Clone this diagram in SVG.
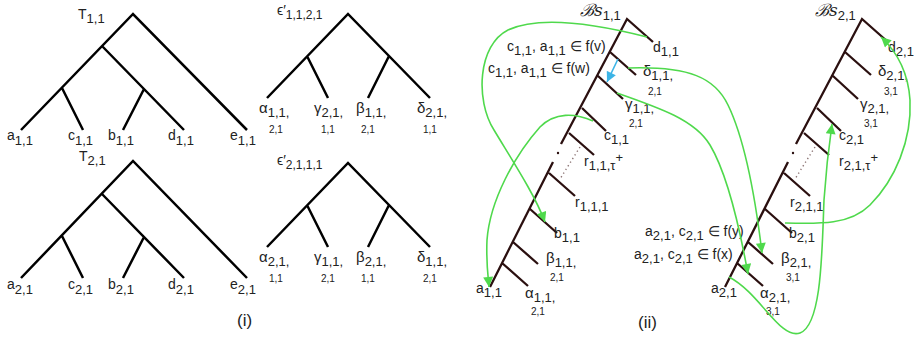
<svg xmlns="http://www.w3.org/2000/svg" width="915" height="337" viewBox="0 0 915 337">
<style>
text{font-family:"Liberation Sans",Arial,sans-serif;font-size:14px;fill:#222}
.sb{font-size:13px}
.s2{font-size:10px}
.gk{font-size:15px}
.lab{font-size:17px}
.t{stroke:#000;stroke-width:2.5;fill:none}
.c{stroke:#2b1010;stroke-width:2.3;fill:none}
.g{stroke:#4fd94c;stroke-width:1.6;fill:none}
.dot{stroke:#8a7272;stroke-width:1.4;stroke-dasharray:1.3 3;fill:none}
.scr{font-family:"DejaVu Serif",serif;font-style:italic;font-size:17px}
</style>
<defs>
<marker id="ag" viewBox="0 0 10 10" refX="10" refY="5" markerWidth="11" markerHeight="10" markerUnits="userSpaceOnUse" orient="auto"><path d="M0,0 L10,5 L0,10 z" fill="#4fd94c"/></marker>
<marker id="ab" viewBox="0 0 10 10" refX="10" refY="5" markerWidth="11" markerHeight="10" markerUnits="userSpaceOnUse" orient="auto"><path d="M0,0 L10,5 L0,10 z" fill="#3cb4e6"/></marker>
</defs>

<g id="T11">
<path class="t" d="M21,130 L133,14 L247,130 M102,46 L184,130 M62,88 L83,130 M144,89 L123,130"/>
<text x="78" y="19">T<tspan class="sb" dy="4">1,1</tspan></text>
<text x="7" y="140">a<tspan class="sb" dy="5">1,1</tspan></text>
<text x="68" y="140">c<tspan class="sb" dy="5">1,1</tspan></text>
<text x="108" y="140">b<tspan class="sb" dy="5">1,1</tspan></text>
<text x="168" y="140">d<tspan class="sb" dy="5">1,1</tspan></text>
<text x="230" y="140">e<tspan class="sb" dy="5">1,1</tspan></text>
</g>
<g id="T21">
<path class="t" d="M21,278 L133,161 L247,278 M102,194 L184,278 M62,236 L83,278 M144,237 L123,278"/>
<text x="79" y="161">T<tspan class="sb" dy="4">2,1</tspan></text>
<text x="7" y="289">a<tspan class="sb" dy="5">2,1</tspan></text>
<text x="68" y="289">c<tspan class="sb" dy="5">2,1</tspan></text>
<text x="108" y="289">b<tspan class="sb" dy="5">2,1</tspan></text>
<text x="168" y="289">d<tspan class="sb" dy="5">2,1</tspan></text>
<text x="230" y="289">e<tspan class="sb" dy="5">2,1</tspan></text>
</g>
<g id="E1121">
<path class="t" d="M267,98 L348,14 L430,98 M307,56 L328,98 M389,56 L368,98"/>
<text x="277" y="15">ϵ′<tspan class="sb" dy="4" style="font-size:12px">1,1,2,1</tspan></text>
<text class="gk" x="259" y="113">α<tspan class="sb" dy="4">1,1,</tspan></text>
<text class="s2" x="269" y="133">2,1</text>
<text class="gk" x="314" y="113">γ<tspan class="sb" dy="4">2,1,</tspan></text>
<text class="s2" x="321" y="133">1,1</text>
<text class="gk" x="356" y="113">β<tspan class="sb" dy="4">1,1,</tspan></text>
<text class="s2" x="361" y="133">2,1</text>
<text class="gk" x="417" y="113">δ<tspan class="sb" dy="4">2,1,</tspan></text>
<text class="s2" x="423" y="133">1,1</text>
</g>
<g id="E2111">
<path class="t" d="M267,247 L348,163 L430,247 M307,205 L328,247 M389,205 L368,247"/>
<text x="277" y="165">ϵ′<tspan class="sb" dy="4" style="font-size:12px">2,1,1,1</tspan></text>
<text class="gk" x="259" y="262">α<tspan class="sb" dy="4">2,1,</tspan></text>
<text class="s2" x="269" y="282">1,1</text>
<text class="gk" x="314" y="262">γ<tspan class="sb" dy="4">1,1,</tspan></text>
<text class="s2" x="321" y="282">2,1</text>
<text class="gk" x="356" y="262">β<tspan class="sb" dy="4">2,1,</tspan></text>
<text class="s2" x="361" y="282">1,1</text>
<text class="gk" x="417" y="262">δ<tspan class="sb" dy="4">1,1,</tspan></text>
<text class="s2" x="423" y="282">2,1</text>
</g>
<text class="lab" x="237" y="326">(i)</text>

<g id="Bs11">
<path class="c" d="M561,144 L627,19 L653,42 M610,52 L636,75 M598,76 L623,99 M582,108 L606,131 M569,133 L594,155 M553,162 L490,287 M549,173 L575,196 M530,209 L557,233 M513,242 L538,264 M502,263 L528,286"/>
<circle cx="558" cy="153" r="1.2" fill="#2b1010"/>
<path class="dot" d="M580,147 L560,179"/>
<text x="580" y="16"><tspan class="scr">ℬs</tspan><tspan class="sb" dy="4">1,1</tspan></text>
<text x="653" y="52">d<tspan class="sb" dy="4">1,1</tspan></text>
<text class="gk" x="643" y="76">δ<tspan class="sb" dy="4">1,1,</tspan></text>
<text class="s2" x="648" y="95">2,1</text>
<text class="gk" x="625" y="109">γ<tspan class="sb" dy="4">1,1,</tspan></text>
<text class="s2" x="629" y="127">2,1</text>
<text x="604" y="140">c<tspan class="sb" dy="4">1,1</tspan></text>
<text x="584" y="166">r<tspan class="sb" dy="4">1,1,τ</tspan><tspan class="sb" dy="-8">+</tspan></text>
<text x="575" y="207">r<tspan class="sb" dy="4">1,1,1</tspan></text>
<text x="554" y="238">b<tspan class="sb" dy="4">1,1</tspan></text>
<text class="gk" x="546" y="263">β<tspan class="sb" dy="4">1,1,</tspan></text>
<text class="s2" x="550" y="281">2,1</text>
<text x="476" y="293">a<tspan class="sb" dy="4">1,1</tspan></text>
<text class="gk" x="525" y="298">α<tspan class="sb" dy="4">1,1,</tspan></text>
<text class="s2" x="531" y="315">2,1</text>
</g>
<g id="Bs21">
<path class="c" d="M796,144 L862,19 L888,42 M845,52 L871,75 M833,76 L858,99 M817,108 L841,131 M804,133 L829,155 M788,162 L725,287 M784,173 L810,196 M765,209 L792,233 M748,242 L773,264 M737,263 L763,286"/>
<circle cx="793" cy="153" r="1.2" fill="#2b1010"/>
<path class="dot" d="M815,147 L795,179"/>
<text x="815" y="16"><tspan class="scr">ℬs</tspan><tspan class="sb" dy="4">2,1</tspan></text>
<text x="888" y="52">d<tspan class="sb" dy="4">2,1</tspan></text>
<text class="gk" x="878" y="76">δ<tspan class="sb" dy="4">2,1,</tspan></text>
<text class="s2" x="884" y="95">3,1</text>
<text class="gk" x="860" y="109">γ<tspan class="sb" dy="4">2,1,</tspan></text>
<text class="s2" x="864" y="127">3,1</text>
<text x="839" y="140">c<tspan class="sb" dy="4">2,1</tspan></text>
<text x="839" y="166">r<tspan class="sb" dy="4">2,1,τ</tspan><tspan class="sb" dy="-8">+</tspan></text>
<text x="790" y="207">r<tspan class="sb" dy="4">2,1,1</tspan></text>
<text x="789" y="238">b<tspan class="sb" dy="4">2,1</tspan></text>
<text class="gk" x="781" y="263">β<tspan class="sb" dy="4">2,1,</tspan></text>
<text class="s2" x="786" y="281">3,1</text>
<text x="711" y="293">a<tspan class="sb" dy="4">2,1</tspan></text>
<text class="gk" x="760" y="298">α<tspan class="sb" dy="4">2,1,</tspan></text>
<text class="s2" x="766" y="315">3,1</text>
</g>
<g id="annotations">
<text x="507" y="51">c<tspan class="sb" dy="4">1,1</tspan><tspan dy="-4">, a</tspan><tspan class="sb" dy="4">1,1</tspan><tspan dy="-4"> ∈ f(v)</tspan></text>
<text x="488" y="73">c<tspan class="sb" dy="4">1,1</tspan><tspan dy="-4">, a</tspan><tspan class="sb" dy="4">1,1</tspan><tspan dy="-4"> ∈ f(w)</tspan></text>
<text x="645" y="236">a<tspan class="sb" dy="4">2,1</tspan><tspan dy="-4">, c</tspan><tspan class="sb" dy="4">2,1</tspan><tspan dy="-4"> ∈ f(y)</tspan></text>
<text x="634" y="259">a<tspan class="sb" dy="4">2,1</tspan><tspan dy="-4">, c</tspan><tspan class="sb" dy="4">2,1</tspan><tspan dy="-4"> ∈ f(x)</tspan></text>
</g>
<text class="lab" x="638" y="328">(ii)</text>

<g id="connectors">
<path class="g" marker-end="url(#ag)" d="M647,37 C600,25 540,15 508,30 C478,45 475,100 494,130 C512,160 535,195 545,222"/>
<path class="g" marker-end="url(#ag)" d="M593,121 C575,113 555,112 540,127 C515,155 490,200 487,240 C486,262 488,275 489,287"/>
<path class="g" marker-end="url(#ag)" d="M628,68 C690,66 715,78 728,105 C745,140 755,195 762,253"/>
<path class="g" marker-end="url(#ag)" d="M617,93 C660,108 695,120 710,145 C728,175 740,230 748,274"/>
<path class="g" marker-end="url(#ag)" d="M729,277 C760,293 780,340 800,333 C822,325 822,250 824,200 C826,170 829,145 832,124"/>
<path class="g" marker-end="url(#ag)" d="M785,223 C820,224 850,225 870,205 C895,180 912,140 910,100 C908,70 895,50 881,37"/>
<path stroke="#3cb4e6" stroke-width="1.6" fill="none" marker-end="url(#ab)" d="M618,59 L607,82"/>
</g>
</svg>
